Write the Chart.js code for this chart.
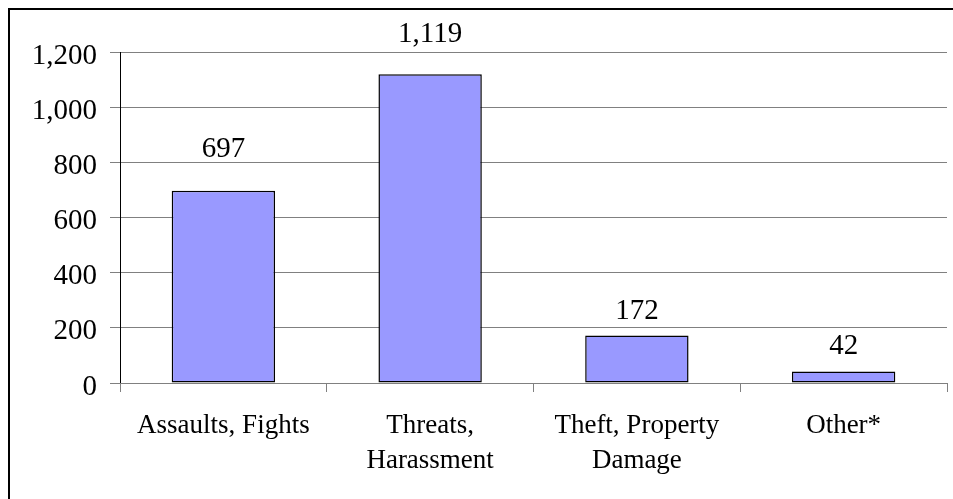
<!DOCTYPE html>
<html>
<head>
<meta charset="utf-8">
<script src="https://cdn.jsdelivr.net/npm/chart.js@4/dist/chart.umd.min.js"></script>
<style>
  html, body { margin: 0; padding: 0; background: #fff; }
  #wrap { width: 953px; height: 499px; position: relative; }
</style>
</head>
<body>
<div id="wrap"><canvas id="myChart" width="953" height="499"></canvas></div>
<script>
const categories = [["Assaults, Fights"], ["Threats,", "Harassment"], ["Theft, Property", "Damage"], ["Other*"]];
const incidents = [697, 1119, 172, 42];
const yTicks = [0, 200, 400, 600, 800, 1000, 1200];

const serif = "'Liberation Serif', 'Times New Roman', serif";

// outer frame + value labels on top of the bars
const extras = {
  id: 'extras',
  afterDraw(chart, args, opts) {
    const ctx = chart.ctx;
    ctx.save();
    ctx.strokeStyle = '#000';
    ctx.lineWidth = 2;
    ctx.strokeRect(9, 9, 960, 500);

    ctx.fillStyle = '#000';
    ctx.font = '29px ' + serif;
    ctx.textAlign = 'center';
    ctx.textBaseline = 'alphabetic';
    const meta = chart.getDatasetMeta(0);
    meta.data.forEach((bar, i) => {
      ctx.fillText(incidents[i].toLocaleString('en-US'), bar.x, bar.y - opts.gaps[i]);
    });
    ctx.restore();
  }
};

const cxt = document.getElementById('myChart').getContext('2d');
const myChart = new Chart(cxt, {
  type: 'bar',
  data: {
    labels: categories,
    datasets: [{
      data: incidents,
      backgroundColor: '#9999FF',
      borderColor: '#000',
      borderWidth: 1.5,
      borderSkipped: false,
      barPercentage: 0.5,
      categoryPercentage: 1
    }]
  },
  options: {
    responsive: false,
    animation: false,
    layout: { padding: { left: 0, top: 52, right: 6, bottom: 0 } },
    plugins: {
      legend: { display: false },
      tooltip: { enabled: false },
      extras: { gaps: [34, 32, 17, 17] }
    },
    scales: {
      y: {
        min: yTicks[0],
        max: yTicks[yTicks.length - 1],
        afterBuildTicks: (scale) => { scale.ticks = yTicks.map(v => ({ value: v })); },
        afterFit: (scale) => { scale.width = 120; },
        ticks: {
          color: '#000',
          font: { family: serif, size: 29 },
          padding: 13,
          labelOffset: 4,
          callback: (v) => v.toLocaleString('en-US')
        },
        grid: { color: '#808080', lineWidth: 1, tickLength: 10, tickColor: '#808080' },
        border: { color: '#000', width: 1 }
      },
      x: {
        afterFit: (scale) => { scale.height = 116; },
        ticks: {
          color: '#000',
          font: { family: serif, size: 27, lineHeight: 1.3 },
          padding: 16,
          maxRotation: 0,
          autoSkip: false
        },
        grid: { offset: true, drawOnChartArea: false, tickLength: 9, color: '#808080' },
        border: { color: '#808080', width: 1 }
      }
    }
  },
  plugins: [extras]
});
</script>
</body>
</html>
